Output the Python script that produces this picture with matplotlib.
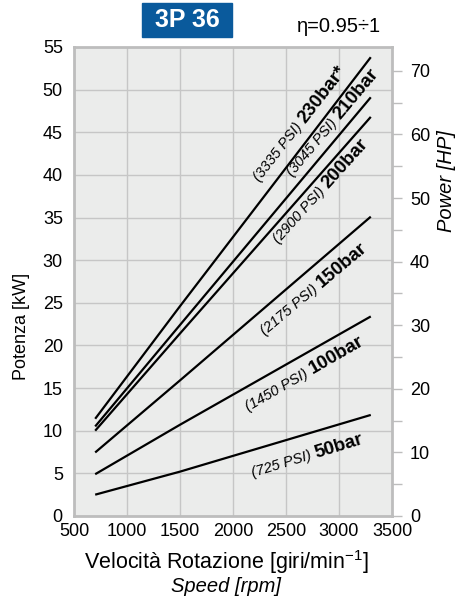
import matplotlib
matplotlib.use("Agg")
from matplotlib import pyplot as plt
from matplotlib.patches import Rectangle
import numpy as np

plt.rcParams['font.family'] = ['Liberation Sans', 'DejaVu Sans']

#### dati ####
rpm = [700, 1500, 3300]
p50 = [2.5, 5.2, 11.85]
p100 = [4.9, 10.7, 23.4]
p150 = [7.45, 15.9, 35.1]
p200 = [10.0, 21.4, 46.8]
p210 = [10.5, 22.4, 49.1]
p230 = [11.4, 24.6, 53.8]
curve = [p50, p100, p150, p200, p210, p230]

psi_lab = ["(725 PSI)", "(1450 PSI)", "(2175 PSI)", "(2900 PSI)", "(3045 PSI)", "(3335 PSI)"]
bar_lab = ["50bar", "100bar", "150bar", "200bar", "210bar", "230bar*"]
# punto di giunzione delle etichette (rpm, kW) e rotazione
lab_xy = [(2783, 6.8), (2755, 16.6), (2837, 26.7), (2899, 38.4), (3016, 46.4), (2679, 46.0)]
lab_rot = [17, 30, 40, 48, 50, 52]

kw_to_hp = 1 / 0.7457
####

fig = plt.figure(figsize=(4.55, 6.03), dpi=100)
ax = fig.add_axes([0.1626, 0.1443, 0.6989, 0.7778])
ax.set_facecolor('#ebeceb')

for p in curve:
    ax.plot(rpm, p, c='black', lw=1.6, solid_capstyle='butt')

for (x, y), r, a, b in zip(lab_xy, lab_rot, psi_lab, bar_lab):
    ax.text(x, y, a + ' ', rotation=r, rotation_mode='anchor', ha='right', va='baseline',
            fontsize=10.5, style='italic')
    ax.text(x, y, b, rotation=r, rotation_mode='anchor', ha='left', va='baseline',
            fontsize=13.5, weight='bold')

ax.set_xlim(500, 3500)
ax.set_ylim(0, 55)
ax.set_xticks(np.arange(500, 3501, 500))
ax.set_yticks(np.arange(0, 56, 5))
ax.grid(True, color='#c6c6c6', lw=1)
ax.set_axisbelow(True)
ax.tick_params(axis='both', length=0, labelsize=13)
ax.tick_params(axis='x', pad=5)
ax.tick_params(axis='y', pad=8)
for s in ax.spines.values():
    s.set_color('#bdbdbd')
    s.set_linewidth(2)

# asse destro in HP
ax2 = ax.twinx()
ax2.set_ylim(0, 55 * kw_to_hp)
ax2.set_yticks(np.arange(0, 71, 10))
ax2.set_yticks(np.arange(5, 71, 10), minor=True)
ax2.tick_params(axis='y', which='both', length=7, width=1, color='#bdbdbd', labelsize=13, pad=6)
for s in ax2.spines.values():
    s.set_visible(False)

# titolo
fig.patches.append(Rectangle((142 / 455, 1 - 37 / 603), 90 / 455, 34 / 603,
                             transform=fig.transFigure, color='#0a5a9c'))
fig.text(187 / 455, 1 - 20 / 603, '3P 36', color='white', weight='bold', fontsize=18,
         ha='center', va='center')
fig.text(339 / 455, 1 - 27 / 603, 'η=0.95÷1', fontsize=14.5, ha='center', va='center')

fig.text(22 / 455, 1 - 326 / 603, 'Potenza [kW]', fontsize=13, rotation=90,
         ha='center', va='center')
fig.text(446 / 455, 1 - 181 / 603, 'Power [HP]', fontsize=14.5, rotation=90, style='italic',
         ha='center', va='center')
fig.text(226 / 455, 1 - 562 / 603, r'Velocità Rotazione [giri/min$^{\mathregular{-1}}$]',
         fontsize=15.5, ha='center', va='center')
fig.text(226 / 455, 1 - 586 / 603, 'Speed [rpm]', fontsize=14.5, style='italic',
         ha='center', va='center')

fig.savefig('out.png', dpi=100)
